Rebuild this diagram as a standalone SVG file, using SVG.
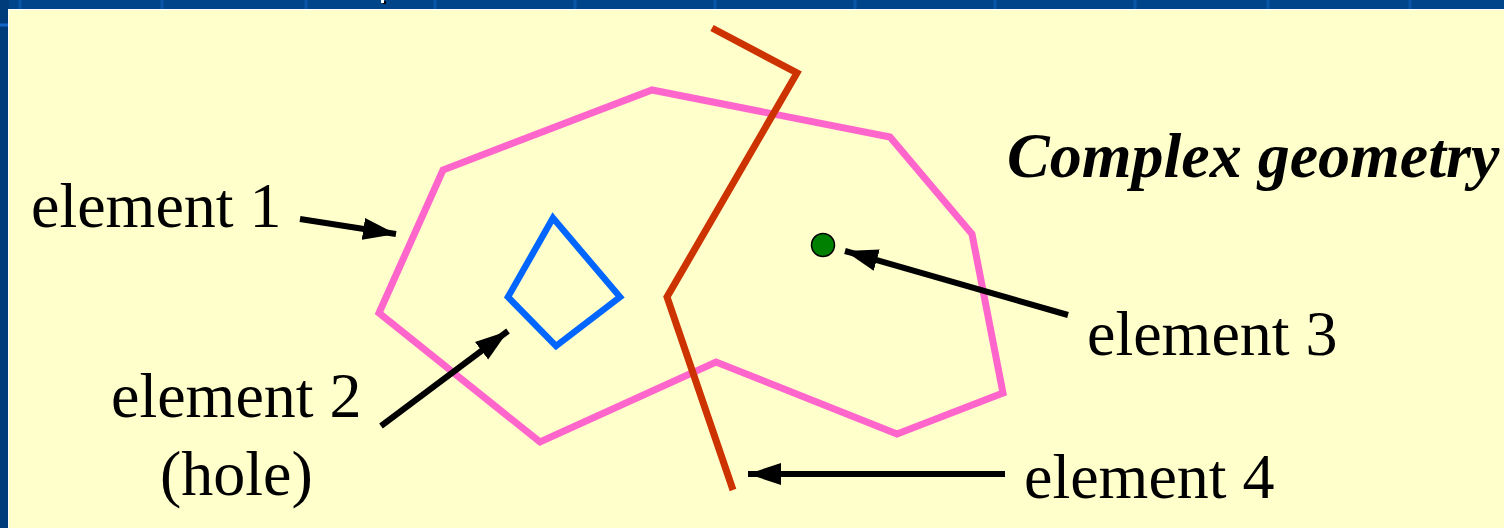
<svg xmlns="http://www.w3.org/2000/svg" width="1504" height="528" viewBox="0 0 1504 528">
  <style>
    .lbl { font-family: "Liberation Serif", "Times New Roman", serif; font-size: 64px; fill: #000; }
    .title { font-family: "Liberation Serif", "Times New Roman", serif; font-size: 64px; font-weight: bold; font-style: italic; fill: #000; }
    .arrow { stroke: #000; stroke-width: 6; fill: none; marker-end: url(#ah); }
    .band { stroke: #0A56A6; stroke-width: 3; }
  </style>
  <defs>
    <marker id="ah" markerUnits="userSpaceOnUse" markerWidth="34" markerHeight="24" refX="33" refY="12" orient="auto">
      <path d="M0,1 L33,12 L0,23 Z" fill="#000"/>
    </marker>
  </defs>

  <!-- background frame -->
  <g id="background">
    <rect x="0" y="0" width="1504" height="528" fill="#00458A"/>
    <rect x="0" y="0" width="9" height="528" fill="#003C7C"/>
    <g class="band">
      <line x1="20" y1="0" x2="20" y2="9"/>
      <line x1="162" y1="0" x2="162" y2="9"/>
      <line x1="306" y1="0" x2="306" y2="9"/>
      <line x1="435" y1="0" x2="435" y2="9"/>
      <line x1="575" y1="0" x2="575" y2="9"/>
      <line x1="715" y1="0" x2="715" y2="9"/>
      <line x1="855" y1="0" x2="855" y2="9"/>
      <line x1="995" y1="0" x2="995" y2="9"/>
      <line x1="1135" y1="0" x2="1135" y2="9"/>
      <line x1="1268" y1="0" x2="1268" y2="9"/>
      <line x1="1410" y1="0" x2="1410" y2="9"/>
      <line x1="0" y1="25" x2="8" y2="25" stroke="#1466C8"/>
    </g>
    <rect x="383" y="1" width="3" height="3" fill="#000"/>
    <rect x="381" y="0" width="3" height="3" fill="#fff"/>
    <rect x="8" y="9" width="1496" height="519" fill="#FFFFFF"/>
    <rect x="9" y="10" width="1495" height="518" fill="#FFFFCC"/>
  </g>

  <!-- element 1: outer polygon -->
  <g id="element1">
    <polygon points="443,170 652,90 890,137 972,234 1003,393 897,434 716,362 540,442 379,313" fill="none" stroke="#FF66CC" stroke-width="7" stroke-linejoin="miter"/>
  </g>

  <!-- element 2: hole -->
  <g id="element2">
    <polygon points="553,218 620,297 556,346 508,297" fill="none" stroke="#0066FF" stroke-width="6.5"/>
  </g>

  <!-- element 4: polyline -->
  <g id="element4">
    <polyline points="712,28 797,73 667,297 733,490" fill="none" stroke="#CC3300" stroke-width="7" stroke-linejoin="miter"/>
  </g>

  <!-- element 3: point -->
  <g id="element3">
    <circle cx="823" cy="245" r="11.5" fill="#008000" stroke="#000" stroke-width="1.5"/>
  </g>

  <!-- connectors -->
  <g id="connectors">
    <line class="arrow" x1="300" y1="219" x2="396" y2="234"/>
    <line class="arrow" x1="381" y1="426" x2="508" y2="331"/>
    <line class="arrow" x1="1068" y1="315" x2="845" y2="251"/>
    <line class="arrow" x1="1005" y1="474" x2="748" y2="474"/>
  </g>

  <!-- labels -->
  <g id="labels">
    <text class="title" x="1007" y="177">Complex geometry</text>
    <text class="lbl" x="31" y="227">element 1</text>
    <text class="lbl" x="111" y="417">element 2</text>
    <text class="lbl" x="160" y="495">(hole)</text>
    <text class="lbl" x="1087" y="355">element 3</text>
    <text class="lbl" x="1024" y="498">element 4</text>
  </g>
</svg>
